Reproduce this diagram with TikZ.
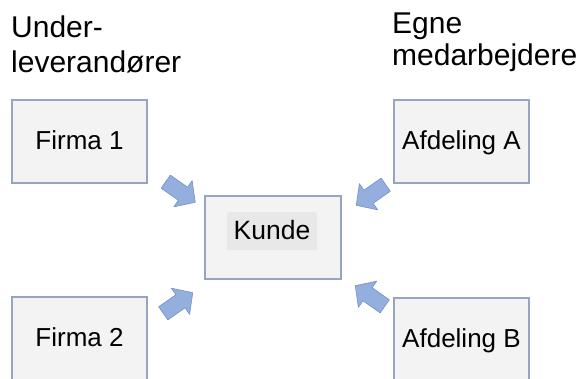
\documentclass[tikz,border=0pt]{standalone}
\usepackage{fontspec}
\setmainfont{Liberation Sans}
\definecolor{boxfill}{HTML}{F3F3F3}
\definecolor{boxline}{HTML}{97A5C0}
\definecolor{arrfill}{HTML}{94AEDD}
\definecolor{arrline}{HTML}{7391C6}
\definecolor{hilite}{HTML}{E8E8E8}
\tikzset{
  box/.style={draw=boxline, fill=boxfill, line width=1.1pt, minimum width=135pt, minimum height=83pt, inner sep=0pt,
    font=\fontsize{26}{30}\selectfont, text height=19pt, text depth=4pt},
  kundehl/.style={fill=hilite, minimum width=90pt, minimum height=38pt, inner sep=0pt,
    font=\fontsize{26.5}{30}\selectfont, text height=19pt, text depth=3pt},
  title/.style={anchor=base west, inner sep=0pt, font=\fontsize{30}{35}\selectfont},
  blockarr/.style={draw=arrline, fill=arrfill, line width=0.6pt, line join=round}
}
\newcommand\blockarrow[2]{%
  \begin{scope}[shift={#1}, rotate=#2]
    \draw[blockarr] (-18,-8) -- (3,-8) -- (3,-16) -- (18,0) -- (3,16) -- (3,8) -- (-18,8) -- cycle;
  \end{scope}}
\begin{document}
\begin{tikzpicture}[x=1pt, y=-1pt]
  \useasboundingbox (0,0) rectangle (579,378);
  \begin{scope}
    \clip (0,0) rectangle (579,378);
    \fill[white] (0,0) rectangle (579,378);
    % titles
    \node[title] (t1) at (11,37) {Under-};
    \node[title] (t2) at (11,72) {leverandører};
    \node[title] (t3) at (392,33) {Egne};
    \node[title] (t4) at (392,65) {medarbejdere};
    % boxes
    \node[box] (f1) at (79.5,141.5) {Firma 1};
    \node[box] (f2) at (79.5,338.5) {Firma 2};
    \node[box] (aa) at (461.5,141.5) {Afdeling A};
    \node[box] (ab) at (461.5,339.5) {Afdeling B};
    \node[box, minimum width=136pt] (k) at (273,237.5) {};
    \node[kundehl] (kt) at (272,231) {Kunde};
    % block arrows
    \blockarrow{(180.5,192)}{-35}
    \blockarrow{(371,195)}{-145}
    \blockarrow{(178,303)}{35}
    \blockarrow{(370,296)}{145}
  \end{scope}
\end{tikzpicture}
\end{document}
